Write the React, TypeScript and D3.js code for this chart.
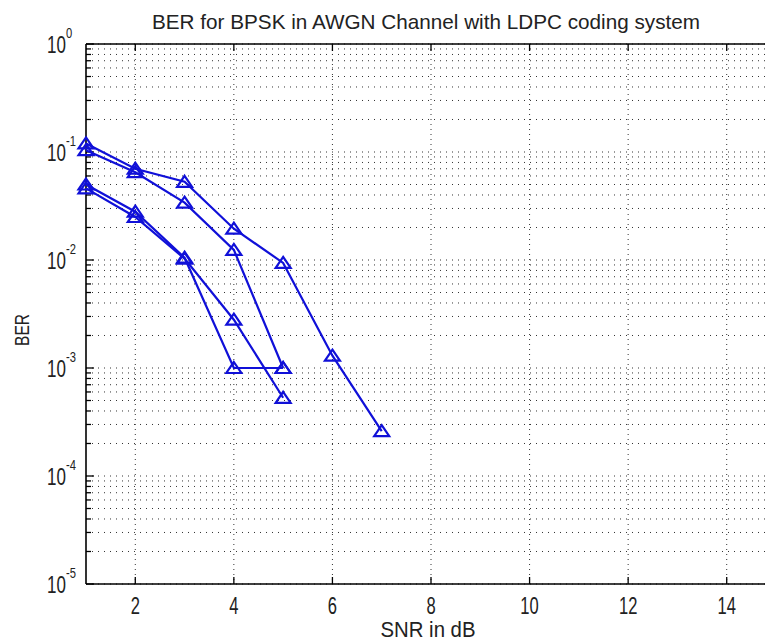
import React from "react";
import * as d3 from "d3";

const snr = [1, 2, 3, 4, 5, 6, 7];
const berA = [0.12, 0.07, 0.053, 0.0195, 0.0094, 0.0013, 0.00026];
const berB = [0.104, 0.065, 0.034, 0.0124, 0.001];
const berC = [0.05, 0.028, 0.0105, 0.001, 0.001];
const berD = [0.046, 0.025, 0.0103, 0.0028, 0.00053];
const seriesList = [berA, berB, berC, berD];

const xTicks = [2, 4, 6, 8, 10, 12, 14];
const yDecades = [0, -1, -2, -3, -4, -5];

const W = 765;
const H = 641;
const left = 86;
const right = 776;
const top = 44;
const bottom = 584;
const FONT = "'Liberation Sans', Arial, sans-serif";
const BLUE = "#1010d8";

export default function App() {
  const x = d3.scaleLinear().domain([1, 15]).range([left, right]);
  const y = d3.scaleLog().domain([1e-5, 1]).range([bottom, top]);

  const minorVals: number[] = [];
  for (let e = -5; e < 0; e++) {
    for (let m = 2; m <= 9; m++) minorVals.push(m * Math.pow(10, e));
  }
  const decadeVals = yDecades.map((e) => Math.pow(10, e));

  const line = d3
    .line<[number, number]>()
    .x((d) => x(d[0]))
    .y((d) => y(d[1]));

  const tri = (cx: number, cy: number) => {
    const w = 7.5, h = 6;
    return `M${cx},${cy - h} L${cx + w},${cy + h - 1} L${cx - w},${cy + h - 1} Z`;
  };

  return (
    <svg
      width={W}
      height={H}
      style={{ position: "absolute", left: 0, top: 0, background: "#fff" }}
      fontFamily={FONT}
    >
      <rect x={0} y={0} width={W} height={H} fill="#fff" />
      {/* grid: horizontal */}
      {[...minorVals, ...decadeVals].map((v, i) => (
        <line
          key={"hg" + i}
          x1={left}
          x2={right}
          y1={y(v)}
          y2={y(v)}
          stroke="#333"
          strokeWidth={1}
          strokeDasharray="1 5"
        />
      ))}
      {/* grid: vertical */}
      {xTicks.map((t) => (
        <line
          key={"vg" + t}
          x1={x(t)}
          x2={x(t)}
          y1={top}
          y2={bottom}
          stroke="#333"
          strokeWidth={1}
          strokeDasharray="1 4"
        />
      ))}
      {/* ticks */}
      {xTicks.map((t) => (
        <g key={"xt" + t}>
          <line x1={x(t)} x2={x(t)} y1={bottom} y2={bottom - 7} stroke="#000" strokeWidth={1.3} />
          <line x1={x(t)} x2={x(t)} y1={top} y2={top + 7} stroke="#000" strokeWidth={1.3} />
          <g transform={`translate(${x(t)}, 614) scale(0.72, 1)`}>
            <text x={0} y={0} textAnchor="middle" fontSize={23} fill="#222">
              {t}
            </text>
          </g>
        </g>
      ))}
      {minorVals.map((v, i) => (
        <line key={"ymt" + i} x1={left} x2={left + 5} y1={y(v)} y2={y(v)} stroke="#000" strokeWidth={1.3} />
      ))}
      {yDecades.map((e) => {
        const v = Math.pow(10, e);
        return (
          <g key={"yt" + e}>
            <line x1={left} x2={left + 8} y1={y(v)} y2={y(v)} stroke="#000" strokeWidth={1.3} />
            <g transform={`translate(66, ${y(v) + 9}) scale(0.74, 1)`}>
              <text x={0} y={0} textAnchor="end" fontSize={23} fill="#222">
                10
              </text>
            </g>
            <g transform={`translate(66, ${y(v) - 6}) scale(0.8, 1)`}>
              <text x={0} y={0} textAnchor="start" fontSize={14} fill="#222">
                {String(e)}
              </text>
            </g>
          </g>
        );
      })}
      {/* axes box */}
      <line x1={left} x2={right} y1={bottom} y2={bottom} stroke="#000" strokeWidth={1.6} />
      <line x1={left} x2={right} y1={top} y2={top} stroke="#000" strokeWidth={1.6} />
      <line x1={left} x2={left} y1={top} y2={bottom} stroke="#000" strokeWidth={1.6} />
      {/* series */}
      {seriesList.map((s, si) => {
        const pts = s.map((v, i) => [snr[i], v] as [number, number]);
        return (
          <g key={"s" + si}>
            <path d={line(pts) || ""} fill="none" stroke={BLUE} strokeWidth={2.2} />
            {pts.map((p, i) => (
              <path key={i} d={tri(x(p[0]), y(p[1]))} fill="none" stroke={BLUE} strokeWidth={2.2} />
            ))}
          </g>
        );
      })}
      {/* labels */}
      <text x={426} y={29} textAnchor="middle" fontSize={21} fill="#222" textLength={548} lengthAdjust="spacingAndGlyphs">
        BER for BPSK in AWGN Channel with LDPC coding system
      </text>
      <text x={428} y={637} textAnchor="middle" fontSize={22} fill="#222" textLength={95} lengthAdjust="spacingAndGlyphs">
        SNR in dB
      </text>
      <text
        transform={`translate(29, 330) rotate(-90)`}
        textAnchor="middle"
        fontSize={21}
        fill="#222"
        textLength={32}
        lengthAdjust="spacingAndGlyphs"
      >
        BER
      </text>
    </svg>
  );
}
